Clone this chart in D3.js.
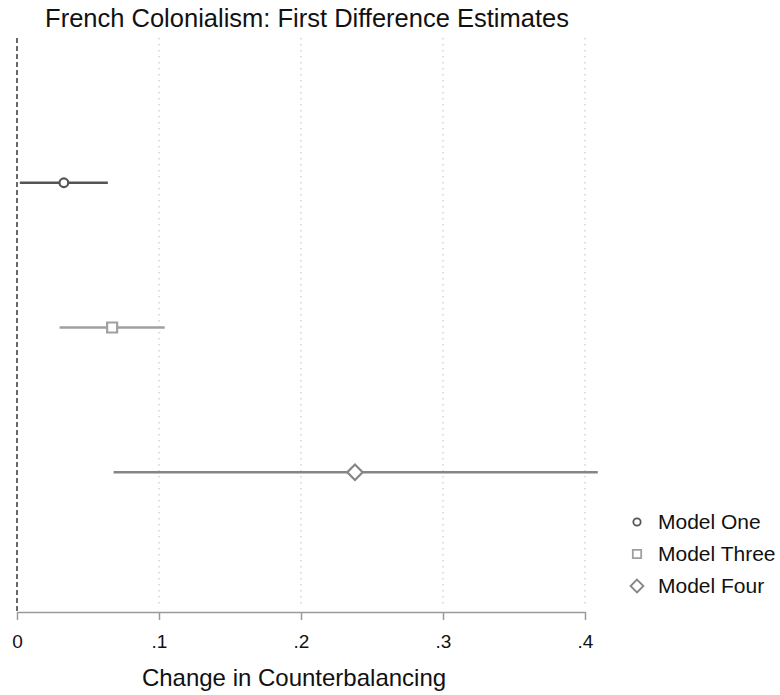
<!DOCTYPE html>
<html>
<head>
<meta charset="utf-8">
<script src="https://cdn.jsdelivr.net/npm/d3@7"></script>
<style>
  html, body { margin: 0; padding: 0; background: #ffffff; }
  svg { display: block; font-family: Arial, "Liberation Sans", sans-serif; }
</style>
</head>
<body>
<svg id="chart" width="780" height="695"></svg>
<script>
// First difference estimates with 95% confidence intervals
const models    = ["Model One", "Model Three", "Model Four"];
const estimates = [0.033, 0.067, 0.238];
const lowerCI   = [0.002, 0.030, 0.068];
const upperCI   = [0.064, 0.104, 0.409];
const xTicks    = [0, 0.1, 0.2, 0.3, 0.4];
const xTickLabels = ["0", ".1", ".2", ".3", ".4"];

const colors  = ["#555555", "#a0a0a0", "#858585"];
const symbols = [d3.symbolCircle, d3.symbolSquare, d3.symbolDiamond2];
const symbolSizes = [60, 100, 150];

const svg = d3.select("#chart");
const plot = { left: 17, right: 585, top: 38, bottom: 612 };

const x = d3.scaleLinear().domain([0, 0.4]).range([plot.left, plot.right]);
const y = d3.scalePoint().domain(["", ...models, " "]).range([plot.top, plot.bottom + 5]);

// Title
svg.append("text")
  .attr("x", 307).attr("y", 27)
  .attr("text-anchor", "middle")
  .attr("font-size", 25.5)
  .attr("fill", "#111")
  .text("French Colonialism: First Difference Estimates");

// Dotted vertical grid lines
svg.append("g").selectAll("line")
  .data(xTicks.filter(t => t > 0))
  .join("line")
  .attr("x1", d => x(d)).attr("x2", d => x(d))
  .attr("y1", plot.top).attr("y2", plot.bottom - 4)
  .attr("stroke", "#c8c8c8")
  .attr("stroke-width", 1.2)
  .attr("stroke-dasharray", "1.5,4.5");

// Dashed reference line at zero
svg.append("line")
  .attr("x1", x(0)).attr("x2", x(0))
  .attr("y1", plot.top).attr("y2", plot.bottom)
  .attr("stroke", "#444")
  .attr("stroke-width", 1.6)
  .attr("stroke-dasharray", "5,3");

// X axis
const xAxis = d3.axisBottom(x)
  .tickValues(xTicks)
  .tickFormat((d, i) => xTickLabels[i])
  .tickSize(8)
  .tickSizeOuter(0)
  .tickPadding(15);

const axisG = svg.append("g")
  .attr("transform", `translate(0,${plot.bottom})`)
  .call(xAxis);
axisG.select(".domain").attr("stroke", "#9a9a9a").attr("stroke-width", 1.5);
axisG.selectAll(".tick line").attr("stroke", "#9a9a9a").attr("stroke-width", 1.5);
axisG.selectAll(".tick text")
  .attr("font-size", 19)
  .attr("fill", "#111")
  .attr("font-family", "Arial, 'Liberation Sans', sans-serif");

// Axis title
svg.append("text")
  .attr("x", 294).attr("y", 686)
  .attr("text-anchor", "middle")
  .attr("font-size", 24)
  .attr("fill", "#111")
  .text("Change in Counterbalancing");

// Confidence intervals
const rows = models.map((m, i) => ({
  model: m, est: estimates[i], lo: lowerCI[i], hi: upperCI[i],
  color: colors[i], symbol: symbols[i], size: symbolSizes[i]
}));

svg.append("g").selectAll("line")
  .data(rows)
  .join("line")
  .attr("x1", d => x(d.lo)).attr("x2", d => x(d.hi))
  .attr("y1", d => y(d.model)).attr("y2", d => y(d.model))
  .attr("stroke", d => d.color)
  .attr("stroke-width", 2.6);

// Point estimates (hollow markers)
svg.append("g").selectAll("path")
  .data(rows)
  .join("path")
  .attr("transform", d => `translate(${x(d.est)},${y(d.model)})`)
  .attr("d", d => d3.symbol().type(d.symbol).size(d.size)())
  .attr("fill", "#fff")
  .attr("stroke", d => d.color)
  .attr("stroke-width", 2.2);

// Legend
const legend = svg.append("g").attr("transform", "translate(637,522)");
const item = legend.selectAll("g")
  .data(rows)
  .join("g")
  .attr("transform", (d, i) => `translate(0,${i * 32})`);
item.append("path")
  .attr("d", d => d3.symbol().type(d.symbol).size(d.size * 0.7)())
  .attr("fill", "#fff")
  .attr("stroke", d => d.color)
  .attr("stroke-width", 1.8);
item.append("text")
  .attr("x", 21).attr("y", 7)
  .attr("font-size", 21)
  .attr("fill", "#111")
  .text(d => d.model);
</script>
</body>
</html>
